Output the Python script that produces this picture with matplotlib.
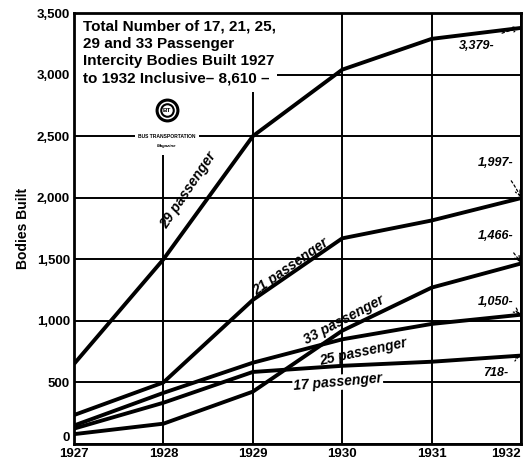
import matplotlib
matplotlib.use('Agg')
import matplotlib.pyplot as plt
from matplotlib.patches import Rectangle

# data
years = [1927, 1928, 1929, 1930, 1931, 1932]
p29 = [650, 1500, 2500, 3040, 3290, 3379]
p21 = [235, 500, 1170, 1670, 1815, 1997]
p33 = [80, 165, 425, 920, 1270, 1466]
p25 = [150, 415, 660, 850, 975, 1050]
p17 = [125, 335, 585, 635, 668, 718]
yticks = [0, 500, 1000, 1500, 2000, 2500, 3000, 3500]
ytick_labels = ['0', '500', '1,000', '1,500', '2,000', '2,500', '3,000', '3,500']
end_labels = ['3,379', '1,997', '1,466', '1,050', '718']

plt.rcParams['font.family'] = ['Liberation Sans Narrow', 'Liberation Sans', 'DejaVu Sans']

fig = plt.figure(figsize=(5.28, 4.68), dpi=100)
ax = fig.add_axes([0.1402, 0.0513, 0.8466, 0.9209])
ax.set_xlim(1927, 1932)
ax.set_ylim(0, 3500)

# grid
ax.set_xticks(years)
ax.set_yticks(yticks)
ax.grid(True, color='black', lw=1.4)
ax.set_axisbelow(True)
for s in ax.spines.values():
    s.set_linewidth(2)
ax.tick_params(length=0, pad=3)
ax.set_xticklabels([str(y) for y in years], fontweight='bold', fontsize=9.5)
ax.set_yticklabels(ytick_labels, fontweight='bold', fontsize=9.5)
ax.get_yticklabels()[0].set_va('bottom')
ax.get_xticklabels()[-1].set_ha('right')
ax.get_xticklabels()[-1].set_x(1932.08)
ax.set_ylabel('Bodies Built', fontweight='bold', fontsize=10, labelpad=5)

# series
for s in [p29, p21, p33, p25, p17]:
    ax.plot(years, s, color='black', lw=2.8, zorder=3, solid_capstyle='butt')

# white patch behind title block
ax.add_patch(Rectangle((0, 0.816), 0.455, 0.184, transform=ax.transAxes,
                       facecolor='white', edgecolor='none', zorder=2))
ax.add_patch(Rectangle((0.17, 0.67), 0.07, 0.15, transform=ax.transAxes,
                       facecolor='white', edgecolor='none', zorder=2))

ax.text(1927.1, 3445,
        'Total Number of 17, 21, 25,\n29 and 33 Passenger\nIntercity Bodies Built 1927\nto 1932 Inclusive\u2013 8,610 \u2013',
        fontweight='bold', fontsize=11, va='top', ha='left',
        linespacing=1.3, zorder=4)

# logo
ax.plot([1928.04], [2710], 'o', ms=15, mfc='white', mec='black', mew=2.2, zorder=4)
ax.plot([1928.04], [2710], 'o', ms=9, mfc='white', mec='black', mew=1.5, zorder=4)
ax.text(1928.04, 2710, 'BT', fontsize=4.5, fontweight='bold', ha='center', va='center', zorder=5)
ax.text(1928.04, 2500, 'BUS TRANSPORTATION', fontweight='bold', fontsize=3.6,
        ha='center', va='center', zorder=4,
        bbox=dict(facecolor='white', edgecolor='none', pad=2))
ax.text(1928.04, 2420, 'Magazine', fontweight='bold', style='italic',
        fontsize=3.2, ha='center', va='center', zorder=4)

# series labels
lab = dict(fontweight='bold', style='italic', fontsize=10,
           ha='center', va='center', zorder=4, rotation_mode='anchor')
ax.text(1928.28, 2060, '29 passenger', rotation=56, **lab)
ax.text(1929.42, 1441, '21 passenger', rotation=35, **lab)
ax.text(1930.02, 1008, '33 passenger', rotation=28, **lab)
ax.text(1930.24, 750, '25 passenger', rotation=12, **lab)
ax.text(1929.95, 500, '17 passenger', rotation=5,
        bbox=dict(facecolor='white', edgecolor='none', pad=0.5), **lab)

# end value callouts
ends = [p29[-1], p21[-1], p33[-1], p25[-1], p17[-1]]
text_pos = [(1931.5, 3230), (1931.72, 2280), (1931.72, 1690), (1931.72, 1150), (1931.72, 580)]
for txt, v, (tx, ty) in zip(end_labels, ends, text_pos):
    ax.annotate(txt + '-', xy=(1932, v), xytext=(tx, ty),
                fontweight='bold', style='italic', fontsize=9, ha='center', va='center',
                zorder=5,
                arrowprops=dict(arrowstyle='->', linestyle=(0, (2, 2)), lw=0.9,
                                color='black', shrinkA=8, shrinkB=1,
                                connectionstyle='arc3,rad=-0.1'))

fig.savefig('out.png', dpi=100)
